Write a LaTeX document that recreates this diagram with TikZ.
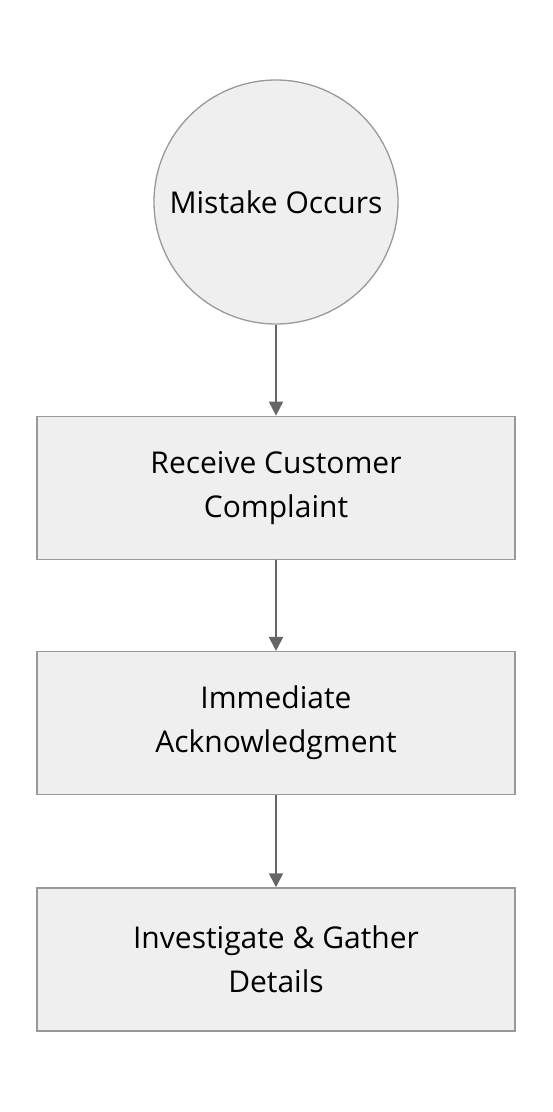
\documentclass[tikz,border=0pt]{standalone}
\usepackage{fontspec}
\setmainfont{Open Sans}
\usetikzlibrary{positioning, arrows.meta}
\definecolor{boxfill}{HTML}{EFEFEF}
\definecolor{boxline}{HTML}{999999}
\definecolor{arrowline}{HTML}{666666}
\tikzset{startnode/.style={circle, draw=boxline, fill=boxfill, line width=1.3pt, minimum size=244pt, inner sep=0pt, font=\fontsize{30}{44}\selectfont},
    stepbox/.style={rectangle, draw=boxline, fill=boxfill, line width=1.3pt, minimum width=478pt, minimum height=143pt, align=center, font=\fontsize{30}{44}\selectfont},
    flow/.style={draw=arrowline, line width=1.8pt, -{Triangle[length=14pt, width=14pt]}}}
\begin{document}
\begin{tikzpicture}
                 \useasboundingbox (0,0) rectangle (552pt,-1112pt);
                 \node[startnode] (mistake) at (276pt,-202pt) {Mistake Occurs};
                 \node[stepbox, below=91pt of mistake] (complaint) {Receive Customer\\Complaint};
                 \node[stepbox, below=91pt of complaint] (ack) {Immediate\\Acknowledgment};
                 \node[stepbox, below=92pt of ack] (gather) {Investigate \& Gather\\Details};

                 \draw[flow] (mistake) -- (complaint);
                 \draw[flow] (complaint) -- (ack);
                 \draw[flow] (ack) -- (gather);
             \end{tikzpicture}
\end{document}
